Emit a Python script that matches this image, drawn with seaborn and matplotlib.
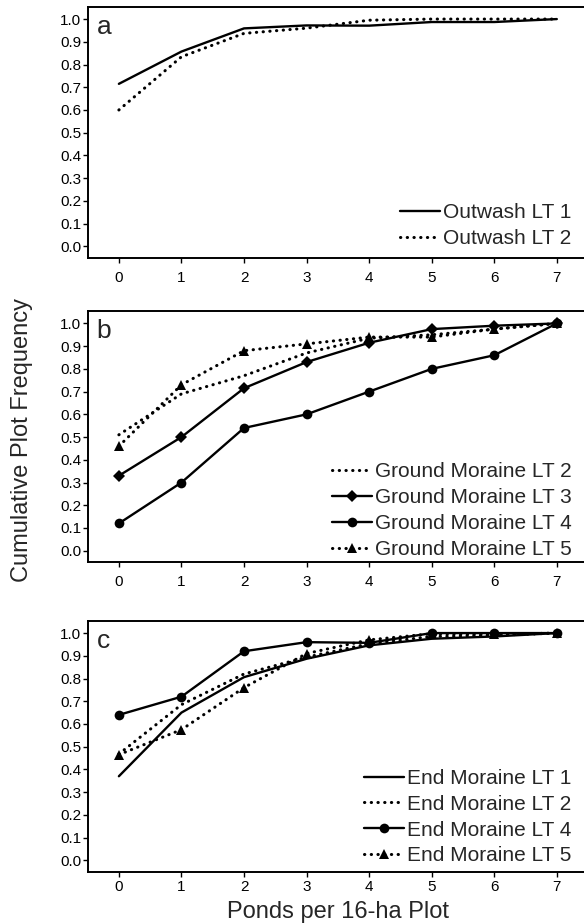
import matplotlib
matplotlib.use('Agg')
import matplotlib.pyplot as plt
import seaborn as sns

# ponds per plot (x) and cumulative plot frequency
ponds = [0, 1, 2, 3, 4, 5, 6, 7]

outwash_lt1 = [0.715, 0.857, 0.959, 0.972, 0.971, 0.987, 0.987, 1.0]
outwash_lt2 = [0.60, 0.834, 0.937, 0.960, 0.995, 1.0, 1.0, 1.0]

ground_lt2 = [0.51, 0.69, 0.77, 0.87, 0.935, 0.95, 0.975, 1.0]
ground_lt3 = [0.33, 0.50, 0.715, 0.83, 0.915, 0.975, 0.99, 1.0]
ground_lt4 = [0.12, 0.30, 0.54, 0.60, 0.70, 0.80, 0.86, 1.0]
ground_lt5 = [0.46, 0.73, 0.88, 0.91, 0.94, 0.94, 0.975, 1.0]

end_lt1 = [0.37, 0.65, 0.806, 0.887, 0.946, 0.975, 0.985, 1.0]
end_lt2 = [0.468, 0.685, 0.82, 0.894, 0.953, 0.985, 0.99, 1.0]
end_lt4 = [0.64, 0.72, 0.92, 0.96, 0.957, 1.0, 1.0, 1.0]
end_lt5 = [0.465, 0.575, 0.76, 0.91, 0.97, 0.997, 0.994, 1.0]

sns.set_theme(style='ticks')
plt.rcParams['font.family'] = ['Liberation Sans', 'DejaVu Sans']

solid = dict(color='black', lw=1.7, linestyle='-')
dotted = dict(color='black', lw=2.2, linestyle=(0, (0.1, 2.1)), dash_capstyle='round')

fig = plt.figure(figsize=(5.84, 9.24), dpi=100)

left, width = 0.150, 0.857
bottoms = [0.7211, 0.3917, 0.0566]
height = 0.2713

panels = [
    ('a', [
        ('Outwash LT 1', outwash_lt1, solid, None, 0),
        ('Outwash LT 2', outwash_lt2, dotted, None, 0),
    ]),
    ('b', [
        ('Ground Moraine LT 2', ground_lt2, dotted, None, 0),
        ('Ground Moraine LT 3', ground_lt3, solid, 'D', 6),
        ('Ground Moraine LT 4', ground_lt4, solid, 'o', 7),
        ('Ground Moraine LT 5', ground_lt5, dotted, '^', 7),
    ]),
    ('c', [
        ('End Moraine LT 1', end_lt1, solid, None, 0),
        ('End Moraine LT 2', end_lt2, dotted, None, 0),
        ('End Moraine LT 4', end_lt4, solid, 'o', 7),
        ('End Moraine LT 5', end_lt5, dotted, '^', 7),
    ]),
]

legend_y = [0.039, 0.012, 0.025]
xpads = [6.0, 6.0, 2.2]

for i, (letter, series) in enumerate(panels):
    ax = fig.add_axes([left, bottoms[i], width, height])
    for label, vals, style, mk, ms in series:
        kw = dict(style)
        if mk:
            kw.update(marker=mk, markersize=ms, markerfacecolor='black',
                      markeredgecolor='black', markeredgewidth=0)
        sns.lineplot(x=ponds, y=vals, ax=ax, label=label, **kw)
    ax.set_xlim(-0.5, 7.5)
    ax.set_ylim(-0.05, 1.053)
    ax.set_xticks(ponds)
    ax.set_yticks([k / 10 for k in range(11)])
    ax.yaxis.set_major_formatter('{x:.1f}')
    ax.tick_params(axis='both', direction='out', length=3.6, width=1,
                   labelsize=11, color='black', labelcolor='black')
    ax.tick_params(axis='x', pad=xpads[i])
    ax.tick_params(axis='y', pad=1)
    for sp in ax.spines.values():
        sp.set_linewidth(1.4)
        sp.set_color('black')
    ax.set_xlabel('')
    ax.set_ylabel('')
    ax.text(0.018, 0.893, letter, transform=ax.transAxes, fontsize=19,
            ha='left', va='baseline')
    ax.legend(loc='lower right', bbox_to_anchor=(0.967, legend_y[i]),
              frameon=False, fontsize=15, handlelength=1.9,
              handletextpad=0.15, labelspacing=0.33, borderaxespad=0,
              borderpad=0, numpoints=1)

fig.text(0.037, 0.524, 'Cumulative Plot Frequency', rotation=90,
         ha='center', va='center', fontsize=17)
fig.text(0.579, 0.0135, 'Ponds per 16-ha Plot', ha='center', va='center',
         fontsize=17)

fig.savefig('out.png', dpi=100, facecolor='white')
